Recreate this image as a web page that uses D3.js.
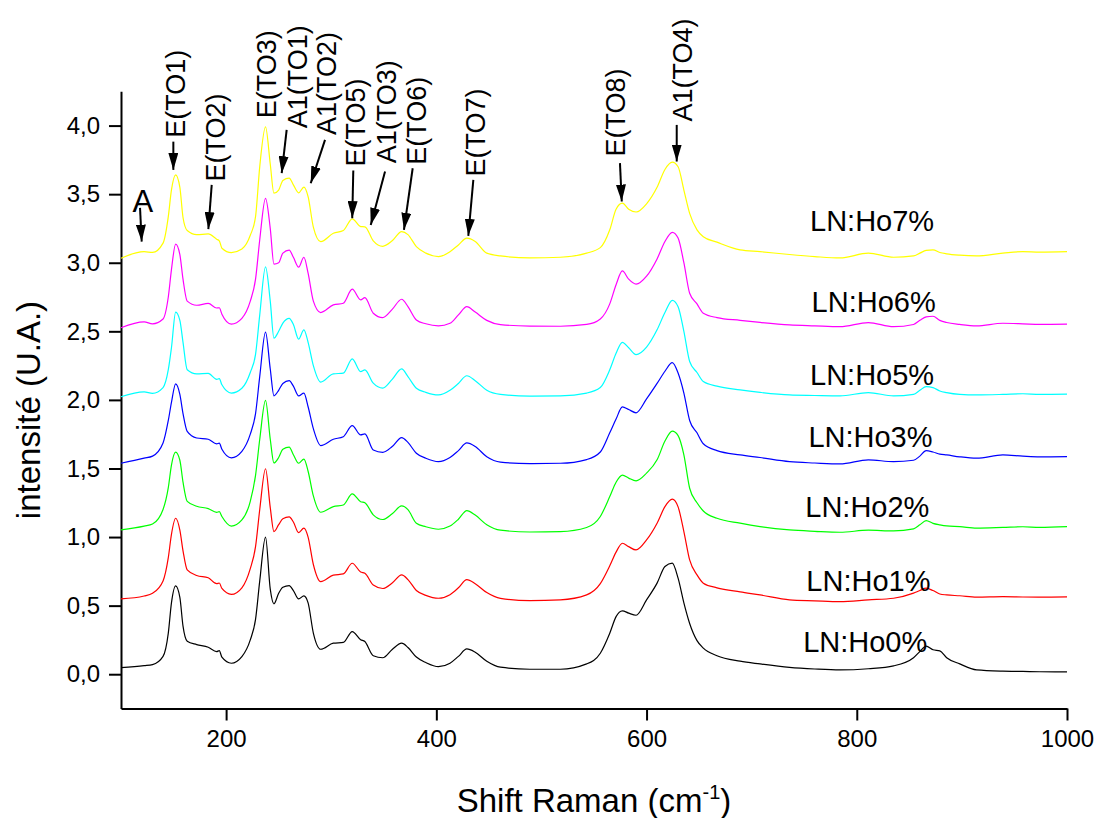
<!DOCTYPE html>
<html>
<head>
<meta charset="utf-8">
<script src="https://cdn.jsdelivr.net/npm/d3@7"></script>
<style>
  body { margin: 0; background: #fff; }
  text { font-family: Arial, "Liberation Sans", sans-serif; fill: #000; }
</style>
</head>
<body>
<script>
// Raman shift (cm-1), shared by all spectra
var shift = [100,122,130,140,145,148,152,156,159,163,172,183,191,193.5,196,205,215,223,228,232,
  237.5,242,245.5,250,254,260,264,269,274,278,283,290,302,311.5,320,328,332,340,349,358,
  367,373,381,390,402,413,421,429,437,448,461,489,518,543,556,565,571,577,583,590,
  600,610,617.5,624.5,630,635.5,641,648,654,667,689,708,736,760,784,811,835,854,860,866,
  872.5,879,885.5,898,914,939,958,974,1000];

// intensities (offset spectra)
var ho0 = [0.048,0.062,0.07,0.13,0.30,0.52,0.644,0.56,0.35,0.24,
  0.216,0.197,0.165,0.172,0.124,0.080,0.128,0.25,0.40,0.68,
  1.0,0.62,0.513,0.59,0.634,0.646,0.61,0.549,0.571,0.52,
  0.30,0.182,0.226,0.232,0.311,0.252,0.238,0.135,0.12,0.18,
  0.226,0.195,0.125,0.085,0.055,0.08,0.13,0.184,0.16,0.095,
  0.051,0.036,0.036,0.075,0.153,0.299,0.42,0.462,0.445,0.43,
  0.542,0.664,0.785,0.81,0.70,0.52,0.37,0.245,0.19,0.135,
  0.095,0.075,0.05,0.038,0.031,0.04,0.061,0.12,0.165,0.205,
  0.178,0.17,0.12,0.075,0.031,0.022,0.02,0.018,0.017];
var ho1 = [0.549,0.57,0.59,0.68,0.85,1.02,1.137,1.05,0.9,0.76,
  0.72,0.703,0.66,0.665,0.625,0.582,0.63,0.77,0.93,1.201,
  1.498,1.215,1.04,1.09,1.134,1.147,1.11,1.032,1.065,1.0,
  0.80,0.675,0.722,0.731,0.809,0.745,0.736,0.65,0.625,0.665,
  0.724,0.69,0.61,0.575,0.554,0.58,0.63,0.689,0.66,0.595,
  0.553,0.537,0.542,0.578,0.66,0.79,0.89,0.955,0.93,0.906,
  0.979,1.101,1.222,1.276,1.22,1.04,0.833,0.724,0.664,0.63,
  0.60,0.578,0.542,0.535,0.529,0.542,0.554,0.591,0.61,0.627,
  0.61,0.585,0.578,0.572,0.562,0.566,0.563,0.562,0.564];
var ho2 = [1.053,1.08,1.095,1.201,1.36,1.525,1.619,1.56,1.4,1.26,
  1.225,1.207,1.18,1.185,1.15,1.08,1.125,1.26,1.45,1.713,
  1.996,1.713,1.54,1.58,1.64,1.655,1.6,1.538,1.568,1.48,
  1.3,1.181,1.222,1.234,1.315,1.258,1.25,1.162,1.128,1.17,
  1.227,1.2,1.101,1.075,1.057,1.08,1.13,1.193,1.16,1.09,
  1.05,1.037,1.04,1.07,1.15,1.295,1.40,1.452,1.43,1.41,
  1.466,1.563,1.70,1.772,1.74,1.6,1.356,1.25,1.19,1.137,
  1.101,1.076,1.052,1.042,1.035,1.05,1.045,1.06,1.089,1.12,
  1.10,1.089,1.081,1.076,1.065,1.07,1.075,1.07,1.076];
var ho3 = [1.538,1.575,1.59,1.686,1.85,1.982,2.117,2.04,1.9,1.77,
  1.722,1.713,1.68,1.685,1.64,1.578,1.625,1.75,1.9,2.172,
  2.494,2.225,2.03,2.07,2.12,2.14,2.1,2.029,2.049,1.95,
  1.79,1.667,1.713,1.732,1.813,1.745,1.752,1.635,1.618,1.66,
  1.725,1.69,1.611,1.575,1.55,1.58,1.63,1.686,1.66,1.585,
  1.546,1.536,1.538,1.565,1.62,1.76,1.86,1.949,1.93,1.906,
  2.007,2.12,2.209,2.272,2.196,2.05,1.85,1.76,1.68,1.63,
  1.599,1.58,1.55,1.54,1.533,1.563,1.55,1.56,1.59,1.63,
  1.62,1.605,1.599,1.585,1.575,1.599,1.59,1.585,1.587];
var ho5 = [2.023,2.058,2.048,2.09,2.22,2.38,2.64,2.58,2.42,2.22,
  2.19,2.193,2.15,2.155,2.11,2.05,2.085,2.2,2.332,2.62,
  2.97,2.72,2.45,2.5,2.56,2.595,2.55,2.443,2.51,2.42,
  2.25,2.13,2.19,2.195,2.299,2.206,2.219,2.122,2.086,2.15,
  2.226,2.17,2.085,2.055,2.036,2.07,2.12,2.176,2.14,2.07,
  2.04,2.028,2.03,2.05,2.09,2.22,2.34,2.42,2.38,2.33,
  2.385,2.511,2.637,2.726,2.68,2.5,2.28,2.2,2.134,2.1,
  2.073,2.055,2.036,2.032,2.029,2.053,2.029,2.04,2.07,2.097,
  2.09,2.065,2.053,2.04,2.036,2.04,2.045,2.04,2.042];
var ho6 = [2.526,2.569,2.555,2.59,2.75,2.95,3.136,3.06,2.88,2.72,
  2.69,2.704,2.67,2.672,2.625,2.553,2.595,2.72,2.88,3.168,
  3.47,3.25,2.99,3.0,3.07,3.092,3.04,2.968,3.04,2.924,
  2.72,2.637,2.693,2.705,2.807,2.729,2.746,2.632,2.6,2.66,
  2.734,2.68,2.583,2.555,2.54,2.559,2.62,2.68,2.64,2.58,
  2.549,2.538,2.537,2.55,2.59,2.7,2.84,2.94,2.88,2.844,
  2.902,3.028,3.155,3.222,3.18,3.0,2.778,2.7,2.632,2.6,
  2.58,2.565,2.547,2.54,2.534,2.564,2.534,2.55,2.58,2.605,
  2.61,2.58,2.564,2.55,2.54,2.559,2.555,2.55,2.552];
var ho7 = [3.033,3.081,3.075,3.143,3.336,3.531,3.641,3.55,3.33,3.235,
  3.205,3.21,3.172,3.16,3.106,3.074,3.1,3.2,3.336,3.701,
  3.99,3.72,3.507,3.53,3.6,3.617,3.568,3.51,3.551,3.482,
  3.26,3.154,3.215,3.235,3.32,3.264,3.262,3.16,3.12,3.16,
  3.227,3.205,3.118,3.07,3.045,3.081,3.13,3.179,3.155,3.07,
  3.05,3.035,3.04,3.07,3.11,3.24,3.39,3.434,3.39,3.37,
  3.43,3.55,3.68,3.733,3.70,3.53,3.36,3.24,3.19,3.15,
  3.094,3.081,3.06,3.045,3.035,3.07,3.04,3.05,3.07,3.09,
  3.094,3.075,3.065,3.055,3.05,3.07,3.081,3.078,3.081];

var seriesNames = ["LN:Ho0%", "LN:Ho1%", "LN:Ho2%", "LN:Ho3%", "LN:Ho5%", "LN:Ho6%", "LN:Ho7%"];
var seriesValues = [ho0, ho1, ho2, ho3, ho5, ho6, ho7];
var seriesColors = ["#000000", "#ff0000", "#00ff00", "#0000ff", "#00ffff", "#ff00ff", "#ffff00"];
// where each sample name sits (shift, intensity)
var nameX = [749, 752, 751, 754, 755.5, 757, 755.5];
var nameY = [0.16, 0.61, 1.145, 1.655, 2.109, 2.644, 3.234];

// phonon mode labels: text foot (tx, ty), arrow from (ax1, ay1) to tip (ax2, ay2)
var modes = [
  {t: "E(TO1)",  tx: 160.9, ty: 3.911, ax1: 149.8, ay1: 3.883, ax2: 149.8, ay2: 3.677},
  {t: "E(TO2)",  tx: 198.9, ty: 3.592, ax1: 186.3, ay1: 3.568, ax2: 183.1, ay2: 3.245},
  {t: "E(TO3)",  tx: 247.9, ty: 4.054},
  {t: "A1(TO1)", tx: 276.5, ty: 3.981, ax1: 257.6, ay1: 3.969, ax2: 252.9, ay2: 3.653},
  {t: "A1(TO2)", tx: 305.0, ty: 3.932, ax1: 294.1, ay1: 3.896, ax2: 280.5, ay2: 3.58},
  {t: "E(TO5)",  tx: 331.7, ty: 3.701, ax1: 321.0, ay1: 3.672, ax2: 320.0, ay2: 3.325},
  {t: "A1(TO3)", tx: 362.1, ty: 3.726, ax1: 351.2, ay1: 3.665, ax2: 337.6, ay2: 3.276},
  {t: "E(TO6)",  tx: 390.6, ty: 3.714, ax1: 377.5, ay1: 3.689, ax2: 369.2, ay2: 3.24},
  {t: "E(TO7)",  tx: 446.3, ty: 3.628, ax1: 435.2, ay1: 3.604, ax2: 430.4, ay2: 3.196},
  {t: "E(TO8)",  tx: 579.5, ty: 3.774, ax1: 574.7, ay1: 3.726, ax2: 576.4, ay2: 3.446},
  {t: "A1(TO4)", tx: 642.8, ty: 4.029, ax1: 628.7, ay1: 4.005, ax2: 628.7, ay2: 3.738}
];
var peakA = {t: "A", tx: 120.9, ty: 3.371, ax1: 118.1, ay1: 3.40, ax2: 119.7, ay2: 3.154};

var xMajor = [200, 400, 600, 800, 1000];
var xMinor = [100, 300, 500, 700, 900];
var yMajor = [0, 0.5, 1, 1.5, 2, 2.5, 3, 3.5, 4];
var yMinor = [-0.25, 0.25, 0.75, 1.25, 1.75, 2.25, 2.75, 3.25, 3.75, 4.25];

var w = 1095, h = 818;

var svg = d3.select("body").append("svg")
  .attr("width", w)
  .attr("height", h);

var x = d3.scaleLinear().domain([100, 1000]).range([121, 1067]);
var y = d3.scaleLinear().domain([-0.25, 4.25]).range([708.5, 91.3]);

var comma = function(d) { return d3.format(".1f")(d).replace(".", ","); };

//axes
var gx = svg.append("g").attr("transform", "translate(0," + y(-0.25) + ")");
gx.call(d3.axisBottom(x).tickValues(xMinor).tickSize(6).tickSizeOuter(0).tickFormat(""));
gx.call(d3.axisBottom(x).tickValues(xMajor).tickSize(12).tickSizeOuter(0).tickPadding(9).tickFormat(d3.format("d")));

var gy = svg.append("g").attr("transform", "translate(" + x(100) + ",0)");
gy.call(d3.axisLeft(y).tickValues(yMinor).tickSize(6).tickSizeOuter(0).tickFormat(""));
gy.call(d3.axisLeft(y).tickValues(yMajor).tickSize(12).tickSizeOuter(0).tickPadding(9).tickFormat(comma));

svg.selectAll(".domain").attr("stroke", "#000").attr("stroke-width", 2);
svg.selectAll(".tick line").attr("stroke", "#000").attr("stroke-width", 2);
svg.selectAll(".tick text").attr("font-size", 24).attr("font-family", "Arial, 'Liberation Sans', sans-serif");

// spectra
var line = d3.line()
  .x(function(d, i) { return x(shift[i]); })
  .y(function(d) { return y(d); })
  .curve(d3.curveMonotoneX);

svg.append("g").selectAll("path")
  .data(seriesValues)
  .enter()
  .append("path")
  .attr("fill", "none")
  .attr("stroke", function(d, i) { return seriesColors[i]; })
  .attr("stroke-width", 1.2)
  .attr("d", line);

// sample names
svg.append("g").selectAll("text")
  .data(seriesNames)
  .enter()
  .append("text")
  .attr("x", function(d, i) { return x(nameX[i]); })
  .attr("y", function(d, i) { return y(nameY[i]); })
  .attr("font-size", 29)
  .text(function(d) { return d; });

// arrow head
svg.append("defs").append("marker")
  .attr("id", "head")
  .attr("viewBox", "0 0 17 10")
  .attr("markerUnits", "userSpaceOnUse")
  .attr("markerWidth", 17)
  .attr("markerHeight", 10)
  .attr("refX", 17)
  .attr("refY", 5)
  .attr("orient", "auto")
  .append("path")
  .attr("d", "M0,0L17,5L0,10Z")
  .attr("fill", "#000");

var arrows = modes.filter(function(d) { return d.ax1 != null; }).concat([peakA]);
svg.append("g").selectAll("line")
  .data(arrows)
  .enter()
  .append("line")
  .attr("x1", function(d) { return x(d.ax1); })
  .attr("y1", function(d) { return y(d.ay1); })
  .attr("x2", function(d) { return x(d.ax2); })
  .attr("y2", function(d) { return y(d.ay2); })
  .attr("stroke", "#000")
  .attr("stroke-width", 2)
  .attr("marker-end", "url(#head)");

svg.append("g").selectAll("text")
  .data(modes)
  .enter()
  .append("text")
  .attr("transform", function(d) { return "translate(" + x(d.tx) + "," + y(d.ty) + ") rotate(-90)"; })
  .attr("font-size", 27)
  .text(function(d) { return d.t; });

svg.append("text")
  .attr("x", x(peakA.tx))
  .attr("y", y(peakA.ty))
  .attr("text-anchor", "middle")
  .attr("font-size", 31)
  .text(peakA.t);

// axis titles
var xt = svg.append("text")
  .attr("x", 594)
  .attr("y", 812)
  .attr("text-anchor", "middle")
  .attr("font-size", 33);
xt.append("tspan").text("Shift Raman (cm");
xt.append("tspan").attr("font-size", 20).attr("dy", -13).text("-1");
xt.append("tspan").attr("dy", 13).text(")");

svg.append("text")
  .attr("transform", "translate(40,410) rotate(-90)")
  .attr("text-anchor", "middle")
  .attr("font-size", 33)
  .text("intensité (U.A.)");
</script>
</body>
</html>
